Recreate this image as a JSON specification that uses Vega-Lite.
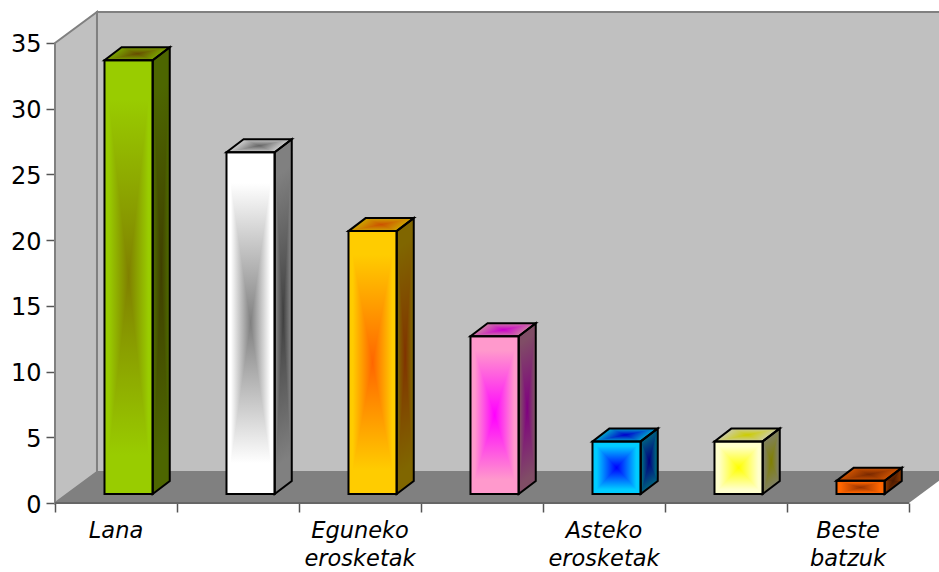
{
  "$schema": "https://vega.github.io/schema/vega-lite/v6.json",
  "width": 884,
  "height": 492,
  "autosize": {"type": "none"},
  "padding": {"left": 55, "top": 11, "right": 0, "bottom": 69},
  "background": "#ffffff",
  "view": {"stroke": null},
  "resolve": {"axis": {"x": "independent", "y": "independent"}},
  "params": [
    {"name": "edgeFront", "value": ["#99CC00", "#FFFFFF", "#FFCC00", "#FF99CC", "#00CCFF", "#FFFFCC", "#FF6600"]},
    {"name": "coreFront", "value": ["#808000", "#808080", "#FF6600", "#FF00FF", "#0000FF", "#FFFF00", "#993300"]},
    {"name": "edgeSide", "value": ["#4D6600", "#808080", "#806600", "#804D66", "#006680", "#808066", "#803300"]},
    {"name": "coreSide", "value": ["#404000", "#404040", "#803300", "#800080", "#000080", "#808000", "#4D1A00"]},
    {"name": "edgeTop", "value": ["#7AA300", "#CCCCCC", "#CCA300", "#CC7AA3", "#00A3CC", "#CCCCA3", "#CC5200"]},
    {"name": "coreTop", "value": ["#664D00", "#666666", "#CC5200", "#CC00CC", "#0000CC", "#CCCC00", "#7A2900"]}
  ],
  "data": {
    "values": [
      {"name": "Lana", "value": 33, "pos": 0},
      {"name": "", "value": 26, "pos": 1},
      {"name": "Eguneko\nerosketak", "value": 20, "pos": 2},
      {"name": "", "value": 12, "pos": 3},
      {"name": "Asteko\nerosketak", "value": 4, "pos": 4},
      {"name": "", "value": 4, "pos": 5},
      {"name": "Beste\nbatzuk", "value": 1, "pos": 6}
    ]
  },
  "transform": [
    {"calculate": "datum.pos + 0.4057", "as": "x0"},
    {"calculate": "datum.x0 + 0.395", "as": "x1"},
    {"calculate": "0.685", "as": "base"},
    {"calculate": "datum.base + datum.value", "as": "top"},
    {"calculate": "datum.base + datum.value / 2", "as": "mid"},
    {"calculate": "0.14", "as": "dx"},
    {"calculate": "0.989", "as": "dy"}
  ],
  "layer": [
    {
      "description": "back wall",
      "data": {"values": [{"x": 0.344, "lo": 2.36, "hi": 37.36}, {"x": 7.344, "lo": 2.36, "hi": 37.36}]},
      "mark": {"type": "area", "orient": "vertical", "fill": "#C0C0C0", "stroke": "#808080", "strokeWidth": 2},
      "encoding": {
        "x": {"field": "x", "type": "quantitative", "axis": null, "scale": {"domain": [0, 7.246], "nice": false, "zero": false}},
        "y": {"field": "hi", "type": "quantitative", "axis": null, "scale": {"domain": [0, 37.43], "nice": false, "zero": false}},
        "y2": {"field": "lo"}
      }
    },
    {
      "description": "left wall",
      "data": {"values": [{"x": 0, "lo": 0, "hi": 35}, {"x": 0.344, "lo": 2.36, "hi": 37.36}]},
      "mark": {"type": "area", "orient": "vertical", "fill": "#C0C0C0", "stroke": "#808080", "strokeWidth": 2},
      "encoding": {
        "x": {"field": "x", "type": "quantitative", "axis": null, "scale": {"domain": [0, 7.246], "nice": false, "zero": false}},
        "y": {"field": "hi", "type": "quantitative", "axis": null, "scale": {"domain": [0, 37.43], "nice": false, "zero": false}},
        "y2": {"field": "lo"}
      }
    },
    {
      "description": "floor",
      "data": {"values": [{"y": 0, "a": 0, "b": 7}, {"y": 2.36, "a": 0.344, "b": 7.344}]},
      "mark": {"type": "area", "orient": "horizontal", "fill": "#808080"},
      "encoding": {
        "y": {"field": "y", "type": "quantitative", "axis": null, "scale": {"domain": [0, 37.43], "nice": false, "zero": false}},
        "x": {"field": "a", "type": "quantitative", "axis": null, "scale": {"domain": [0, 7.246], "nice": false, "zero": false}},
        "x2": {"field": "b"}
      }
    },
    {
      "description": "axis baseline with the tick marks and value labels",
      "data": {"values": [{"a": 0, "b": 7, "v": 0}]},
      "mark": {"type": "rule", "stroke": "#666666", "strokeWidth": 2},
      "encoding": {
        "x": {"field": "a", "type": "quantitative", "scale": {"domain": [0, 7.246], "nice": false, "zero": false},
          "axis": {"values": [0, 1, 2, 3, 4, 5, 6, 7], "title": null, "labels": false, "domain": false, "grid": false, "tickSize": 9, "tickWidth": 1.5, "tickColor": "#555555"}},
        "x2": {"field": "b"},
        "y": {"field": "v", "type": "quantitative", "scale": {"domain": [0, 37.43], "nice": false, "zero": false},
          "axis": {"values": [0, 5, 10, 15, 20, 25, 30, 35], "title": null, "domain": false, "grid": false, "tickSize": 9, "tickWidth": 1.5, "tickColor": "#555555", "labelFont": "DejaVu Sans", "labelFontSize": 24, "labelColor": "#000000", "labelPadding": 5, "labelOffset": 2}}
      }
    },
    {
      "description": "front face, vertical part of the centre gradient",
      "mark": {"type": "rect", "fill": {"expr": "{gradient:'linear',x1:0,y1:0,x2:0,y2:1,stops:[{offset:0,color:edgeFront[datum.pos]},{offset:0.09,color:edgeFront[datum.pos]},{offset:0.5,color:coreFront[datum.pos]},{offset:0.91,color:edgeFront[datum.pos]},{offset:1,color:edgeFront[datum.pos]}]}"}},
      "encoding": {
        "x": {"field": "x0", "type": "quantitative", "axis": null, "scale": {"domain": [0, 7.246], "nice": false, "zero": false}},
        "x2": {"field": "x1"},
        "y": {"field": "top", "type": "quantitative", "axis": null, "scale": {"domain": [0, 37.43], "nice": false, "zero": false}},
        "y2": {"field": "base"}
      }
    },
    {
      "description": "front face, horizontal part of the centre gradient",
      "transform": [
        {"calculate": "[0, 1, 2]", "as": "k"},
        {"flatten": ["k"]},
        {"calculate": "datum.x0 + datum.k * (datum.x1 - datum.x0) / 2", "as": "px"},
        {"calculate": "datum.k == 1 ? datum.mid : datum.top", "as": "hi"},
        {"calculate": "datum.k == 1 ? datum.mid : datum.base", "as": "lo"}
      ],
      "mark": {"type": "area", "orient": "vertical", "fill": {"expr": "{gradient:'linear',x1:0,y1:0,x2:1,y2:0,stops:[{offset:0,color:edgeFront[datum.pos]},{offset:0.09,color:edgeFront[datum.pos]},{offset:0.5,color:coreFront[datum.pos]},{offset:0.91,color:edgeFront[datum.pos]},{offset:1,color:edgeFront[datum.pos]}]}"}},
      "encoding": {
        "x": {"field": "px", "type": "quantitative", "axis": null, "scale": {"domain": [0, 7.246], "nice": false, "zero": false}},
        "y": {"field": "hi", "type": "quantitative", "axis": null, "scale": {"domain": [0, 37.43], "nice": false, "zero": false}},
        "y2": {"field": "lo"},
        "detail": {"field": "pos"}
      }
    },
    {
      "description": "side face, sheared vertical gradient",
      "transform": [
        {"calculate": "[0, 1]", "as": "k"},
        {"flatten": ["k"]},
        {"calculate": "datum.x1 + datum.k * datum.dx", "as": "px"},
        {"calculate": "datum.top + datum.k * datum.dy", "as": "hi"},
        {"calculate": "datum.base + datum.k * datum.dy", "as": "lo"},
        {"calculate": "datum.dy / (datum.value + datum.dy)", "as": "s"},
        {"calculate": "0.5 / (1 + datum.s * datum.s)", "as": "t"}
      ],
      "mark": {"type": "area", "orient": "vertical", "fill": {"expr": "{gradient:'linear',x1:0.5-datum.t*datum.s,y1:0.5-datum.t,x2:0.5+datum.t*datum.s,y2:0.5+datum.t,stops:[{offset:0,color:edgeSide[datum.pos]},{offset:0.09,color:edgeSide[datum.pos]},{offset:0.5,color:coreSide[datum.pos]},{offset:0.91,color:edgeSide[datum.pos]},{offset:1,color:edgeSide[datum.pos]}]}"}},
      "encoding": {
        "x": {"field": "px", "type": "quantitative", "axis": null, "scale": {"domain": [0, 7.246], "nice": false, "zero": false}},
        "y": {"field": "hi", "type": "quantitative", "axis": null, "scale": {"domain": [0, 37.43], "nice": false, "zero": false}},
        "y2": {"field": "lo"},
        "detail": {"field": "pos"}
      }
    },
    {
      "description": "side face, horizontal part of the centre gradient",
      "transform": [
        {"calculate": "[0, 1, 2]", "as": "k"},
        {"flatten": ["k"]},
        {"calculate": "datum.x1 + datum.k * datum.dx / 2", "as": "px"},
        {"calculate": "(datum.k == 1 ? datum.mid : datum.top) + datum.k * datum.dy / 2", "as": "hi"},
        {"calculate": "(datum.k == 1 ? datum.mid : datum.base) + datum.k * datum.dy / 2", "as": "lo"}
      ],
      "mark": {"type": "area", "orient": "vertical", "fill": {"expr": "{gradient:'linear',x1:0,y1:0,x2:1,y2:0,stops:[{offset:0,color:edgeSide[datum.pos]},{offset:0.09,color:edgeSide[datum.pos]},{offset:0.5,color:coreSide[datum.pos]},{offset:0.91,color:edgeSide[datum.pos]},{offset:1,color:edgeSide[datum.pos]}]}"}},
      "encoding": {
        "x": {"field": "px", "type": "quantitative", "axis": null, "scale": {"domain": [0, 7.246], "nice": false, "zero": false}},
        "y": {"field": "hi", "type": "quantitative", "axis": null, "scale": {"domain": [0, 37.43], "nice": false, "zero": false}},
        "y2": {"field": "lo"},
        "detail": {"field": "pos"}
      }
    },
    {
      "description": "top face, depth-wise gradient",
      "transform": [
        {"calculate": "[0, 1]", "as": "k"},
        {"flatten": ["k"]},
        {"calculate": "datum.top + datum.k * datum.dy", "as": "py"},
        {"calculate": "datum.x0 + datum.k * datum.dx", "as": "a"},
        {"calculate": "datum.x1 + datum.k * datum.dx", "as": "b"}
      ],
      "mark": {"type": "area", "orient": "horizontal", "fill": {"expr": "{gradient:'linear',x1:0,y1:0,x2:0,y2:1,stops:[{offset:0,color:edgeTop[datum.pos]},{offset:0.5,color:coreTop[datum.pos]},{offset:1,color:edgeTop[datum.pos]}]}"}},
      "encoding": {
        "y": {"field": "py", "type": "quantitative", "axis": null, "scale": {"domain": [0, 37.43], "nice": false, "zero": false}},
        "x": {"field": "a", "type": "quantitative", "axis": null, "scale": {"domain": [0, 7.246], "nice": false, "zero": false}},
        "x2": {"field": "b"},
        "detail": {"field": "pos"}
      }
    },
    {
      "description": "top face, left triangle of the centre gradient",
      "transform": [
        {"calculate": "[0, 1, 2]", "as": "k"},
        {"flatten": ["k"]},
        {"calculate": "datum.top + datum.k * datum.dy / 2", "as": "py"},
        {"calculate": "datum.x0 + datum.k * datum.dx / 2", "as": "a"},
        {"calculate": "datum.k == 1 ? (datum.x0 + datum.x1 + datum.dx) / 2 : datum.a", "as": "b"}
      ],
      "mark": {"type": "area", "orient": "horizontal", "fill": {"expr": "{gradient:'linear',x1:0.444,y1:0.194,x2:1,y2:0.5,stops:[{offset:0,color:edgeTop[datum.pos]},{offset:1,color:coreTop[datum.pos]}]}"}},
      "encoding": {
        "y": {"field": "py", "type": "quantitative", "axis": null, "scale": {"domain": [0, 37.43], "nice": false, "zero": false}},
        "x": {"field": "a", "type": "quantitative", "axis": null, "scale": {"domain": [0, 7.246], "nice": false, "zero": false}},
        "x2": {"field": "b"},
        "detail": {"field": "pos"}
      }
    },
    {
      "description": "top face, right triangle of the centre gradient",
      "transform": [
        {"calculate": "[0, 1, 2]", "as": "k"},
        {"flatten": ["k"]},
        {"calculate": "datum.top + datum.k * datum.dy / 2", "as": "py"},
        {"calculate": "datum.x1 + datum.k * datum.dx / 2", "as": "b"},
        {"calculate": "datum.k == 1 ? (datum.x0 + datum.x1 + datum.dx) / 2 : datum.b", "as": "a"}
      ],
      "mark": {"type": "area", "orient": "horizontal", "fill": {"expr": "{gradient:'linear',x1:0.56,y1:0.806,x2:0,y2:0.5,stops:[{offset:0,color:edgeTop[datum.pos]},{offset:1,color:coreTop[datum.pos]}]}"}},
      "encoding": {
        "y": {"field": "py", "type": "quantitative", "axis": null, "scale": {"domain": [0, 37.43], "nice": false, "zero": false}},
        "x": {"field": "a", "type": "quantitative", "axis": null, "scale": {"domain": [0, 7.246], "nice": false, "zero": false}},
        "x2": {"field": "b"},
        "detail": {"field": "pos"}
      }
    },
    {
      "description": "front outline",
      "mark": {"type": "rect", "fill": "transparent", "stroke": "#000000", "strokeWidth": 2},
      "encoding": {
        "x": {"field": "x0", "type": "quantitative", "axis": null, "scale": {"domain": [0, 7.246], "nice": false, "zero": false}},
        "x2": {"field": "x1"},
        "y": {"field": "top", "type": "quantitative", "axis": null, "scale": {"domain": [0, 37.43], "nice": false, "zero": false}},
        "y2": {"field": "base"}
      }
    },
    {
      "description": "side outline",
      "transform": [
        {"calculate": "[0, 1]", "as": "k"},
        {"flatten": ["k"]},
        {"calculate": "datum.x1 + datum.k * datum.dx", "as": "px"},
        {"calculate": "datum.top + datum.k * datum.dy", "as": "hi"},
        {"calculate": "datum.base + datum.k * datum.dy", "as": "lo"}
      ],
      "mark": {"type": "area", "orient": "vertical", "fill": "transparent", "stroke": "#000000", "strokeWidth": 2},
      "encoding": {
        "x": {"field": "px", "type": "quantitative", "axis": null, "scale": {"domain": [0, 7.246], "nice": false, "zero": false}},
        "y": {"field": "hi", "type": "quantitative", "axis": null, "scale": {"domain": [0, 37.43], "nice": false, "zero": false}},
        "y2": {"field": "lo"},
        "detail": {"field": "pos"}
      }
    },
    {
      "description": "top outline",
      "transform": [
        {"calculate": "[0, 1]", "as": "k"},
        {"flatten": ["k"]},
        {"calculate": "datum.top + datum.k * datum.dy", "as": "py"},
        {"calculate": "datum.x0 + datum.k * datum.dx", "as": "a"},
        {"calculate": "datum.x1 + datum.k * datum.dx", "as": "b"}
      ],
      "mark": {"type": "area", "orient": "horizontal", "fill": "transparent", "stroke": "#000000", "strokeWidth": 2},
      "encoding": {
        "y": {"field": "py", "type": "quantitative", "axis": null, "scale": {"domain": [0, 37.43], "nice": false, "zero": false}},
        "x": {"field": "a", "type": "quantitative", "axis": null, "scale": {"domain": [0, 7.246], "nice": false, "zero": false}},
        "x2": {"field": "b"},
        "detail": {"field": "pos"}
      }
    },
    {
      "description": "category names under the axis",
      "transform": [{"filter": "datum.name != ''"}, {"calculate": "datum.pos + 0.5", "as": "centre"}, {"calculate": "0", "as": "floorValue"}],
      "mark": {"type": "text", "font": "DejaVu Sans", "fontStyle": "italic", "fontSize": 22.5, "color": "#000000", "align": "center", "baseline": "alphabetic", "dy": 35, "lineHeight": 28, "lineBreak": "\n"},
      "encoding": {
        "x": {"field": "centre", "type": "quantitative", "axis": null, "scale": {"domain": [0, 7.246], "nice": false, "zero": false}},
        "y": {"field": "floorValue", "type": "quantitative", "axis": null, "scale": {"domain": [0, 37.43], "nice": false, "zero": false}},
        "text": {"field": "name"}
      }
    }
  ]
}
